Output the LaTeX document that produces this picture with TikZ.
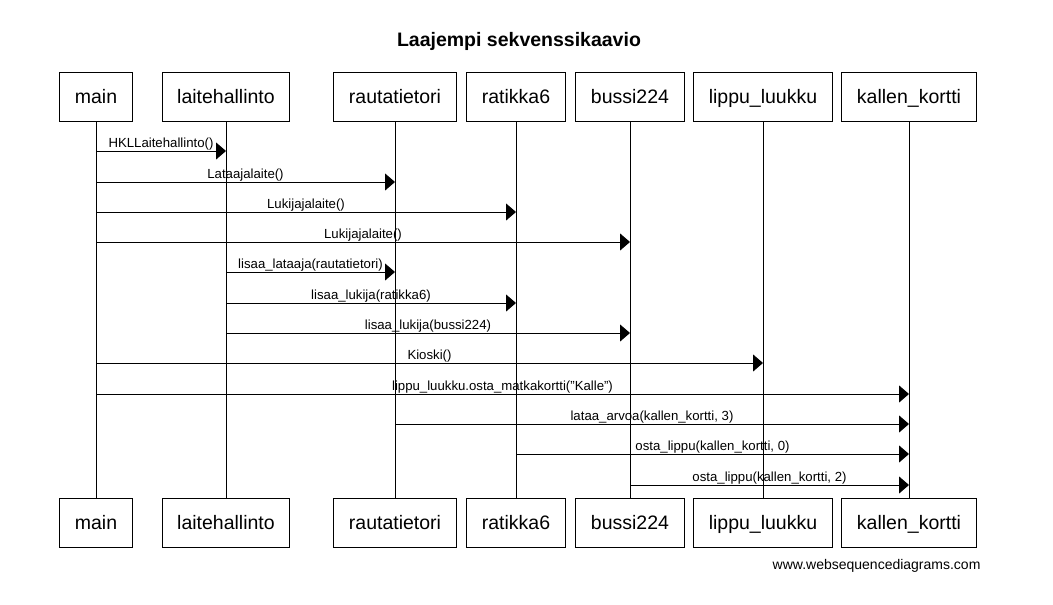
\documentclass[tikz,border=0pt]{standalone}
\usepackage{fontspec}
\setmainfont{Liberation Sans}
\usepackage{tikz}
\usetikzlibrary{arrows.meta,positioning}

\begin{document}
\begin{tikzpicture}[x=1pt,y=-1pt,
  actor/.style={draw,line width=1pt,minimum height=49pt,inner xsep=15pt,
    text height=18pt,text depth=4pt,font=\fontsize{19.5}{23}\selectfont},
  msg/.style={line width=1pt,-{Triangle[length=10pt,width=17pt]}},
  lbl/.style={midway,above,inner sep=0.6pt,font=\fontsize{13.2}{15}\selectfont}]
\useasboundingbox (0,0) rectangle (1053,605);
\node (title) at (519,41) {\fontsize{19.5}{23}\selectfont\bfseries Laajempi sekvenssikaavio};
% top row
\node[actor] (main) at (96,96.5) {main};
\node[actor] (lait) at (226,96.5) {laitehallinto};
\node[actor] (raut) at (395,96.5) {rautatietori};
\node[actor] (rat) at (516,96.5) {ratikka6};
\node[actor] (bus) at (630,96.5) {bussi224};
\node[actor] (lip) at (763,96.5) {lippu\_luukku};
\node[actor] (kal) at (909,96.5) {kallen\_kortti};
% bottom row
\node[actor] (main2) at (96,522.5) {main};
\node[actor] (lait2) at (226,522.5) {laitehallinto};
\node[actor] (raut2) at (395,522.5) {rautatietori};
\node[actor] (rat2) at (516,522.5) {ratikka6};
\node[actor] (bus2) at (630,522.5) {bussi224};
\node[actor] (lip2) at (763,522.5) {lippu\_luukku};
\node[actor] (kal2) at (909,522.5) {kallen\_kortti};
\node[anchor=east,font=\fontsize{14}{16}\selectfont] (web) at (984,566) {www.websequencediagrams.com};
\draw[line width=1pt]
(main) -- (main2)
(lait) -- (lait2)
(raut) -- (raut2)
(rat) -- (rat2)
(bus) -- (bus2)
(lip) -- (lip2)
(kal) -- (kal2);
% message rows
\coordinate (r1) at (0,151);
\coordinate (r2) at (0,182);
\coordinate (r3) at (0,212);
\coordinate (r4) at (0,242);
\coordinate (r5) at (0,272);
\coordinate (r6) at (0,303);
\coordinate (r7) at (0,333);
\coordinate (r8) at (0,363);
\coordinate (r9) at (0,394);
\coordinate (r10) at (0,424);
\coordinate (r11) at (0,454);
\coordinate (r12) at (0,485);
\draw[msg] (main |- r1) -- (lait |- r1) node[lbl]{HKLLaitehallinto()};
\draw[msg] (main |- r2) -- (raut |- r2) node[lbl]{Lataajalaite()};
\draw[msg] (main |- r3) -- (rat |- r3) node[lbl]{Lukijajalaite()};
\draw[msg] (main |- r4) -- (bus |- r4) node[lbl]{Lukijajalaite()};
\draw[msg] (lait |- r5) -- (raut |- r5) node[lbl]{lisaa\_lataaja(rautatietori)};
\draw[msg] (lait |- r6) -- (rat |- r6) node[lbl]{lisaa\_lukija(ratikka6)};
\draw[msg] (lait |- r7) -- (bus |- r7) node[lbl]{lisaa\_lukija(bussi224)};
\draw[msg] (main |- r8) -- (lip |- r8) node[lbl]{Kioski()};
\draw[msg] (main |- r9) -- (kal |- r9) node[lbl]{lippu\_luukku.osta\_matkakortti("Kalle")};
\draw[msg] (raut |- r10) -- (kal |- r10) node[lbl]{lataa\_arvoa(kallen\_kortti, 3)};
\draw[msg] (rat |- r11) -- (kal |- r11) node[lbl]{osta\_lippu(kallen\_kortti, 0)};
\draw[msg] (bus |- r12) -- (kal |- r12) node[lbl]{osta\_lippu(kallen\_kortti, 2)};
\end{tikzpicture}
\end{document}
